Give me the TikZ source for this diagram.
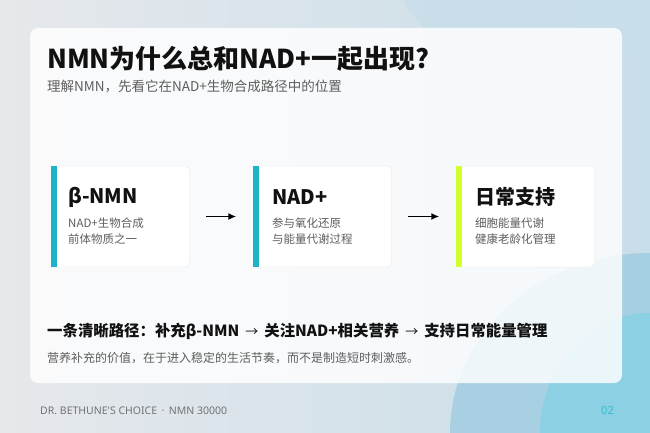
\documentclass[tikz,border=0pt]{standalone}
\usepackage{fontspec}
\usepackage{tikz}
\usetikzlibrary{arrows.meta}
\setmainfont{Noto Sans CJK SC}
\newfontfamily\latinfont{Noto Sans}
\definecolor{accent}{HTML}{1FB3C8}
\definecolor{lime}{HTML}{D2FF2E}
\definecolor{ink}{HTML}{111111}
\definecolor{muted}{HTML}{5E5E5E}
\definecolor{backdrop}{HTML}{E6E8EB}
\definecolor{glassA}{HTML}{C8DEEA}
\definecolor{glassB}{HTML}{8FC6DE}
\tikzset{
  card/.style={draw=black!10, fill=white, rounded corners=4pt, minimum width=138pt, minimum height=101pt},
  cardtitle/.style={anchor=west, text=ink, font=\bfseries\fontsize{20}{24}\selectfont, inner sep=0pt},
  cardtext/.style={anchor=west, text=muted, align=left, font=\fontsize{11.5}{16}\selectfont, inner sep=0pt},
  flow/.style={-{Latex[length=8pt,width=7pt]}, line width=1.9pt, shorten <=16pt, shorten >=17pt}
}
\newcommand{\thinarrow}{\hspace{6pt}{\mdseries\fontsize{13}{18}\selectfont →}\hspace{6pt}}

\begin{document}
\begin{tikzpicture}[x=1pt,y=-1pt]
    % backdrop
    \useasboundingbox (0,0) rectangle (650,433);
    \clip (0,0) rectangle (650,433);
    \shade[left color=backdrop, right color=glassA] (0,0) rectangle (650,433);
    \fill[glassA, opacity=0.7] (560,-20) ellipse (160pt and 90pt);
    \fill[glassB, opacity=0.6] (650,433) ellipse (200pt and 180pt);
    \fill[glassB!80!cyan, opacity=0.5] (650,433) ellipse (110pt and 120pt);
    \fill[white, opacity=0.82, rounded corners=8pt] (30,28) rectangle (622,383);

    \node[anchor=west, inner sep=0pt, text=ink, font=\bfseries\fontsize{26}{30}\selectfont] (title) at (47,59) {NMN为什么总和NAD+一起出现?};
    \node[anchor=west, inner sep=0pt, text=muted, font=\fontsize{13.5}{16}\selectfont] (sub) at (47,87) {理解NMN，先看它在NAD+生物合成路径中的位置};

    \node[card] (nmn) at (120.5,216.5) {};
    \node[card] (nad) at (322.5,216.5) {};
    \node[card] (daily) at (525.5,216.5) {};
    \fill[accent] (nmn.north west) rectangle ([xshift=6pt]nmn.south west);
    \fill[accent] (nad.north west) rectangle ([xshift=6pt]nad.south west);
    \fill[lime] (daily.north west) rectangle ([xshift=6pt]daily.south west);

    \node[cardtitle] (nmnT) at (68,197) {β-NMN};
    \node[cardtitle] (nadT) at (272,197) {NAD+};
    \node[cardtitle] (dailyT) at (475,197) {日常支持};
    \node[cardtext] (nmnX) at (68,231) {NAD+生物合成\\前体物质之一};
    \node[cardtext] (nadX) at (272,231) {参与氧化还原\\与能量代谢过程};
    \node[cardtext] (dailyX) at (475,231) {细胞能量代谢\\健康老龄化管理};

    \draw[flow] (nmn) -- (nad);
    \draw[flow] (nad) -- (daily);

    \node[anchor=west, inner sep=0pt, text=ink, font=\bfseries\fontsize{15.4}{18}\selectfont] (path) at (47,331) {一条清晰路径：补充β-NMN\thinarrow 关注NAD+相关营养\thinarrow 支持日常能量管理};
    \node[anchor=west, inner sep=0pt, text=muted, font=\fontsize{12}{14}\selectfont] (note) at (47,358) {营养补充的价值，在于进入稳定的生活节奏，而不是制造短时刺激感。};

    \node[anchor=west, inner sep=0pt, text=black!55, font=\latinfont\fontsize{10.5}{12}\selectfont] (brand) at (40,411) {DR. BETHUNE'S CHOICE \,·\, NMN 30000};
    \node[anchor=east, inner sep=0pt, text=accent!90, font=\latinfont\bfseries\fontsize{11}{12}\selectfont] (page) at (614,411) {02};
\end{tikzpicture}
\end{document}
